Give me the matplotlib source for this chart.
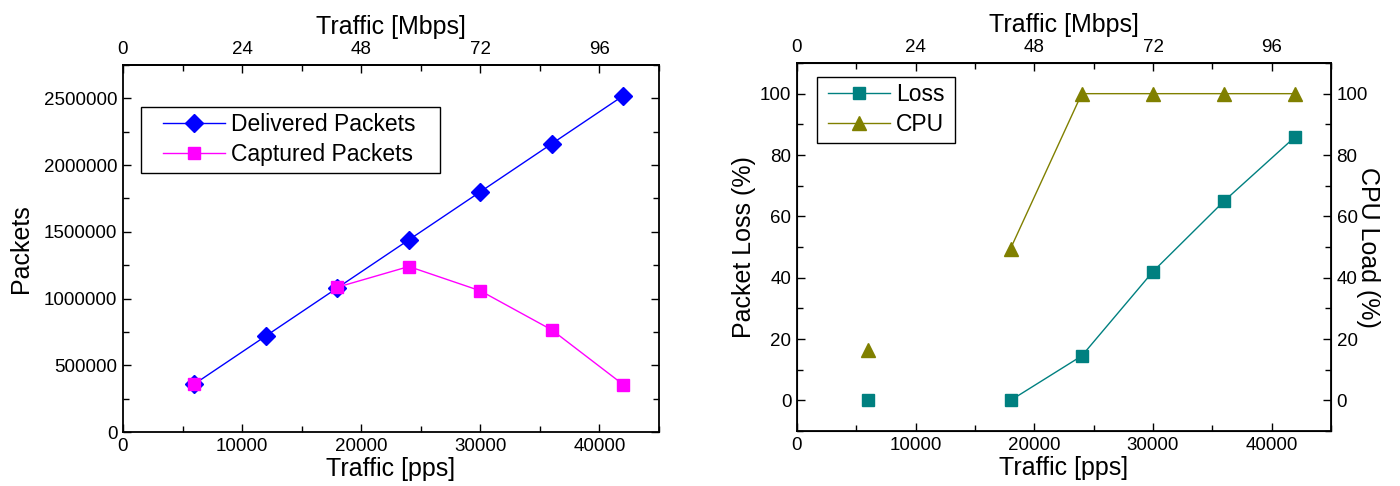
import numpy as np
import matplotlib
matplotlib.use("Agg")
from matplotlib import pyplot as plt
from matplotlib.patches import Rectangle
from matplotlib.ticker import MultipleLocator, FormatStrFormatter

plt.rcParams['font.family'] = ['Liberation Sans', 'DejaVu Sans']

pps = [6000, 12000, 18000, 24000, 30000, 36000, 42000]
delivered = [360000, 720000, 1080000, 1440000, 1800000, 2160000, 2520000]
captured = [360000, np.nan, 1085000, 1240000, 1058000, 765000, 355000]
loss = [0, np.nan, 0, 14.5, 42, 65, 86]
cpu = [16.5, np.nan, 49.5, 100, 100, 100, 100]

MBPS_PER_PPS = 0.0024
TICK_FS = 13.5
LABEL_FS = 18
LEG_FS = 16.5

def style(ax):
	ax.tick_params(which='both', direction='in', top=False, right=True, labelsize=TICK_FS, width=1, pad=4)
	ax.tick_params(which='major', length=6)
	ax.tick_params(which='minor', length=4)
	for s in ax.spines.values():
		s.set_linewidth(1.3)

def top_axis(ax):
	sec = ax.secondary_xaxis('top', functions=(lambda x: x*MBPS_PER_PPS, lambda m: m/MBPS_PER_PPS))
	sec.xaxis.set_major_locator(MultipleLocator(24))
	sec.xaxis.set_minor_locator(MultipleLocator(12))
	sec.tick_params(which='both', direction='in', labelsize=TICK_FS, width=1, pad=5)
	sec.tick_params(which='major', length=6)
	sec.tick_params(which='minor', length=4)
	sec.spines['top'].set_linewidth(1.3)
	sec.set_xlabel('Traffic [Mbps]', fontsize=LABEL_FS, labelpad=5)
	return sec

def legend(ax, handles, anchor, box):
	# frame drawn separately: Origin-style legends have wider side padding
	leg = ax.legend(handles=handles, loc='upper left', bbox_to_anchor=anchor, borderaxespad=0,
		fontsize=LEG_FS, frameon=False, handlelength=2.7, handletextpad=0.26,
		borderpad=0.28, labelspacing=0.3)
	ax.add_patch(Rectangle(box[:2], box[2], box[3], transform=ax.transAxes, fill=True,
		facecolor='white', edgecolor='black', lw=1, zorder=4.9))
	leg.set_zorder(5)
	return leg

fig = plt.figure(figsize=(14, 4.86), dpi=100)

# left: packets
ax1 = fig.add_axes([123/1400, 54/486, 536/1400, 367/486])
d, = ax1.plot(pps, delivered, color='#0000ff', lw=1, marker='D', ms=9.5, label='Delivered Packets')
c, = ax1.plot(pps, captured, color='#ff00ff', lw=1, marker='s', ms=8.5, label='Captured Packets')
ax1.set_xlim(0, 45000)
ax1.set_ylim(0, 2750000)
ax1.xaxis.set_major_locator(MultipleLocator(10000))
ax1.xaxis.set_minor_locator(MultipleLocator(5000))
ax1.yaxis.set_major_locator(MultipleLocator(500000))
ax1.yaxis.set_minor_locator(MultipleLocator(250000))
ax1.yaxis.set_major_formatter(FormatStrFormatter('%d'))
style(ax1)
ax1.set_xlabel('Traffic [pps]', fontsize=LABEL_FS, labelpad=2)
ax1.set_ylabel('Packets', fontsize=LABEL_FS, labelpad=8)
top_axis(ax1)
legend(ax1, [d, c], (0.0627, 0.886), (0.0336, 0.706, 0.558, 0.180))

# right: loss and cpu
ax2 = fig.add_axes([797/1400, 55/486, 534/1400, 368/486])
l1, = ax2.plot(pps, loss, color='#008080', lw=1, marker='s', ms=8.5, label='Loss')
ax2.set_xlim(0, 45000)
ax2.set_ylim(-10, 110)
ax2.xaxis.set_major_locator(MultipleLocator(10000))
ax2.xaxis.set_minor_locator(MultipleLocator(5000))
ax2.yaxis.set_major_locator(MultipleLocator(20))
ax2.yaxis.set_minor_locator(MultipleLocator(10))
style(ax2)
ax2.tick_params(right=False)
ax2.set_xlabel('Traffic [pps]', fontsize=LABEL_FS, labelpad=2)
ax2.set_ylabel('Packet Loss (%)', fontsize=LABEL_FS, labelpad=3)
top_axis(ax2)

ax3 = ax2.twinx()
l2, = ax3.plot(pps, cpu, color='#808000', lw=1, marker='^', ms=10, label='CPU')
ax3.set_ylim(-10, 110)
ax3.yaxis.set_major_locator(MultipleLocator(20))
ax3.yaxis.set_minor_locator(MultipleLocator(10))
ax3.tick_params(which='both', direction='in', labelsize=TICK_FS, width=1, pad=4)
ax3.tick_params(which='major', length=6)
ax3.tick_params(which='minor', length=4)
ax3.set_ylabel('CPU Load (%)', fontsize=LABEL_FS, rotation=270, labelpad=9)
# legend on top axes so it sits above the CPU line
legend(ax3, [l1, l2], (0.046, 0.962), (0.0375, 0.783, 0.258, 0.179))

fig.savefig('out.png', dpi=100)
